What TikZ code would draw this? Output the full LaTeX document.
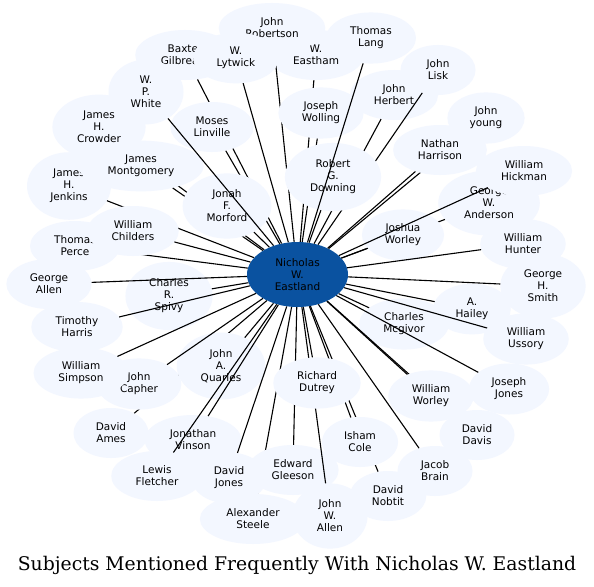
\documentclass[tikz,border=0pt]{standalone}
\usepackage{fontspec}
\usetikzlibrary{shapes.geometric}
\newfontfamily\lblfont{DejaVu Sans}
\newfontfamily\ttlfont{DejaVu Serif}
\definecolor{nodefill}{RGB}{243,247,255}
\definecolor{centerfill}{RGB}{10,82,160}
\tikzset{
  lbl/.style={ellipse, fill=nodefill, inner xsep=11pt, inner ysep=7pt,
    minimum width=75pt, minimum height=50pt, align=center,
    font=\lblfont\fontsize{10.5}{12}\selectfont, text=black},
  hub/.style={ellipse, fill=centerfill, minimum width=101pt, minimum height=65pt,
    inner sep=2pt, align=center, font=\lblfont\fontsize{10.5}{12}\selectfont, text=black},
  link/.style={draw=black, line width=1.1pt},
  ttl/.style={font=\ttlfont\fontsize{18.8}{22}\selectfont, text=black}
}
\begin{document}
\begin{tikzpicture}[x=1pt,y=-1pt]
\fill[white] (0,0) rectangle (594,586);
\useasboundingbox (0,0) rectangle (594,586);
\node[hub] (c) at (297.5,274.5) {Nicholas\\W.\\Eastland};
\node[lbl] (eastham) at (316,55) {W.\\Eastham}; \draw[link] (c) -- (eastham);
\node[lbl] (robertson) at (272,28) {John\\Robertson}; \draw[link] (c) -- (robertson);
\node[lbl] (baxter) at (185,55) {Baxter\\Gilbreath}; \draw[link] (c) -- (baxter);
\node[lbl] (lytwick) at (236,58) {W.\\Lytwick}; \draw[link] (c) -- (lytwick);
\node[lbl] (herbert) at (394,95) {John\\Herbert}; \draw[link] (c) -- (herbert);
\node[lbl] (lisk) at (438,70) {John\\Lisk}; \draw[link] (c) -- (lisk);
\node[lbl] (wolling) at (321,113) {Joseph\\Wolling}; \draw[link] (c) -- (wolling);
\node[lbl] (downing) at (333,177) {Robert\\G.\\Downing}; \draw[link] (c) -- (downing);
\node[lbl] (lang) at (371,38) {Thomas\\Lang}; \draw[link] (c) -- (lang);
\node[lbl] (crowder) at (99,127) {James\\H.\\Crowder}; \draw[link] (c) -- (crowder);
\node[lbl] (jenkins) at (69,186) {James\\H.\\Jenkins}; \draw[link] (c) -- (jenkins);
\node[lbl] (montgomery) at (141,166) {James\\Montgomery}; \draw[link] (c) -- (montgomery);
\node[lbl] (moses) at (212,127) {Moses\\Linville}; \draw[link] (c) -- (moses);
\node[lbl] (morford) at (227,206) {Jonah\\F.\\Morford}; \draw[link] (c) -- (morford);
\node[lbl] (white) at (146,92) {W.\\P.\\White}; \draw[link] (c) -- (white);
\node[lbl] (perce) at (75,246) {Thomas\\Perce}; \draw[link] (c) -- (perce);
\node[lbl] (childers) at (133,231) {William\\Childers}; \draw[link] (c) -- (childers);
\node[lbl] (young) at (486,118) {John\\young}; \draw[link] (c) -- (young);
\node[lbl] (harrison) at (440,150) {Nathan\\Harrison}; \draw[link] (c) -- (harrison);
\node[lbl] (anderson) at (489,203) {George\\W.\\Anderson}; \draw[link] (c) -- (anderson);
\node[lbl] (jworley) at (403,235) {Joshua\\Worley}; \draw[link] (c) -- (jworley);
\node[lbl] (hickman) at (524,171) {William\\Hickman}; \draw[link] (c) -- (hickman);
\node[lbl] (hunter) at (523,244) {William\\Hunter}; \draw[link] (c) -- (hunter);
\node[lbl] (spivy) at (169,296) {Charles\\R.\\Spivy}; \draw[link] (c) -- (spivy);
\node[lbl] (gallen) at (49,284) {George\\Allen}; \draw[link] (c) -- (gallen);
\node[lbl] (tharris) at (77,327) {Timothy\\Harris}; \draw[link] (c) -- (tharris);
\node[lbl] (hailey) at (472,309) {A.\\Hailey}; \draw[link] (c) -- (hailey);
\node[lbl] (smith) at (543,286) {George\\H.\\Smith}; \draw[link] (c) -- (smith);
\node[lbl] (mcgivor) at (404,324) {Charles\\Mcgivor}; \draw[link] (c) -- (mcgivor);
\node[lbl] (ussory) at (526,339) {William\\Ussory}; \draw[link] (c) -- (ussory);
\node[lbl] (ddavis) at (477,435) {David\\Davis}; \draw[link] (c) -- (ddavis);
\node[lbl] (wworley) at (431,396) {William\\Worley}; \draw[link] (c) -- (wworley);
\node[lbl] (jjones) at (509,389) {Joseph\\Jones}; \draw[link] (c) -- (jjones);
\node[lbl] (ames) at (111,433) {David\\Ames}; \draw[link] (c) -- (ames);
\node[lbl] (quarles) at (221,366) {John\\A.\\Quarles}; \draw[link] (c) -- (quarles);
\node[lbl] (capher) at (139,384) {John\\Capher}; \draw[link] (c) -- (capher);
\node[lbl] (simpson) at (81,373) {William\\Simpson}; \draw[link] (c) -- (simpson);
\node[lbl] (vinson) at (193,440) {Jonathan\\Vinson}; \draw[link] (c) -- (vinson);
\node[lbl] (fletcher) at (157,476) {Lewis\\Fletcher}; \draw[link] (c) -- (fletcher);
\node[lbl] (steele) at (253,519) {Alexander\\Steele}; \draw[link] (c) -- (steele);
\node[lbl] (djones) at (229,478) {David\\Jones}; \draw[link] (c) -- (djones);
\node[lbl] (gleeson) at (293,470) {Edward\\Gleeson}; \draw[link] (c) -- (gleeson);
\node[lbl] (jwallen) at (330,516) {John\\W.\\Allen}; \draw[link] (c) -- (jwallen);
\node[lbl] (nobtit) at (388,496) {David\\Nobtit}; \draw[link] (c) -- (nobtit);
\node[lbl] (isham) at (360,442) {Isham\\Cole}; \draw[link] (c) -- (isham);
\node[lbl] (brain) at (435,471) {Jacob\\Brain}; \draw[link] (c) -- (brain);
\node[lbl] (dutrey) at (317,383) {Richard\\Dutrey}; \draw[link] (c) -- (dutrey);
\node[ttl] (title) at (297,565) {Subjects Mentioned Frequently With Nicholas W. Eastland};
\end{tikzpicture}
\end{document}
